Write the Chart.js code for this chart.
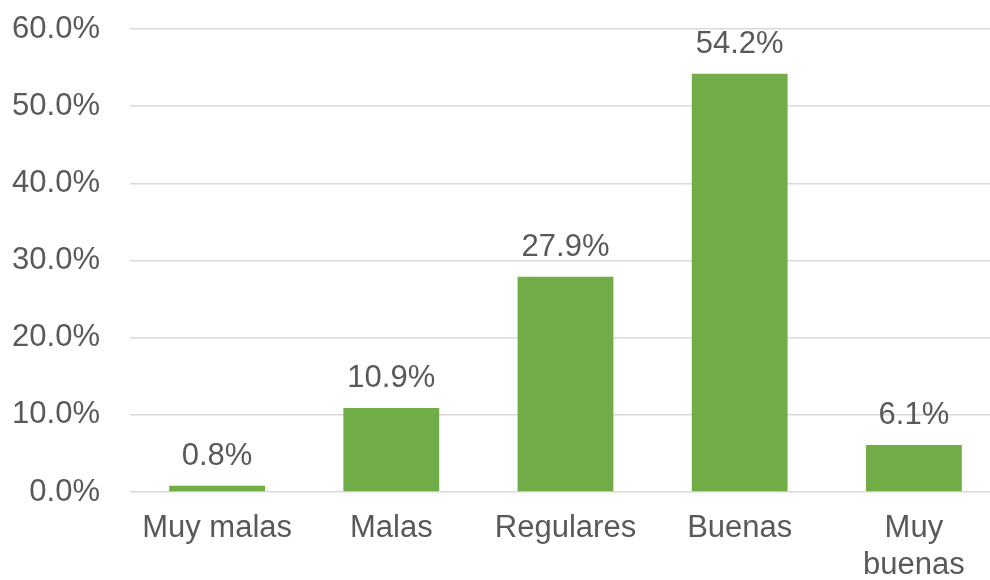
<!DOCTYPE html>
<html>
<head>
<meta charset="utf-8">
<script src="https://cdn.jsdelivr.net/npm/chart.js@4/dist/chart.umd.min.js"></script>
<style>
    html, body { margin: 0; padding: 0; background: #fff; overflow: hidden; }
    #wrap { width: 1001px; height: 580px; }
</style>
</head>
<body>
<div id="wrap"><canvas id="chart" width="1001" height="580"></canvas></div>
<script>
'use strict';

const categories = ['Muy malas', 'Malas', 'Regulares', 'Buenas', ['Muy', 'buenas']];
const shares = [0.8, 10.9, 27.9, 54.2, 6.1];
const yTicks = [0, 10, 20, 30, 40, 50, 60];

const TEXT = '#595959';
const FONT = '"Liberation Sans", Arial, Helvetica, sans-serif';

// draws the value above each bar
const valueLabels = {
    id: 'valueLabels',
    afterDatasetsDraw(chart) {
        const ctx = chart.ctx;
        const meta = chart.getDatasetMeta(0);
        ctx.save();
        ctx.font = '31px ' + FONT;
        ctx.fillStyle = TEXT;
        ctx.textAlign = 'center';
        ctx.textBaseline = 'middle';
        meta.data.forEach(function (bar, i) {
            ctx.fillText(shares[i].toFixed(1) + '%', bar.x, bar.y - 29);
        });
        ctx.restore();
    }
};

new Chart(document.getElementById('chart').getContext('2d'), {
    type: 'bar',
    data: {
        labels: categories,
        datasets: [
            {
                data: shares,
                backgroundColor: '#70AD47',
                borderWidth: 0,
                barPercentage: 0.55,
                categoryPercentage: 1
            }
        ]
    },
    options: {
        responsive: false,
        animation: false,
        layout: {padding: {top: 29, right: 0, left: 0, bottom: 0}},
        plugins: {legend: {display: false}, tooltip: {enabled: false}},
        scales: {
            x: {
                grid: {display: false, drawTicks: false},
                border: {display: false},
                ticks: {
                    color: TEXT,
                    font: {family: FONT, size: 31, lineHeight: 1.19},
                    padding: 18,
                    maxRotation: 0,
                    autoSkip: false
                },
                afterFit: function (scale) { scale.height = 88; }
            },
            y: {
                min: 0,
                max: 60,
                afterBuildTicks: function (scale) {
                    scale.ticks = yTicks.map(function (v) { return {value: v}; });
                },
                // invisible tick marks hold the labels away from the plot
                grid: {color: '#d9d9d9', lineWidth: 1.5, tickColor: 'transparent', tickLength: 28},
                border: {display: false},
                ticks: {
                    color: TEXT,
                    font: {family: FONT, size: 31},
                    padding: 2,
                    callback: function (v) { return v.toFixed(1) + '%'; }
                },
                afterFit: function (scale) { scale.width = 130; }
            }
        }
    },
    plugins: [valueLabels]
});
</script>
</body>
</html>
